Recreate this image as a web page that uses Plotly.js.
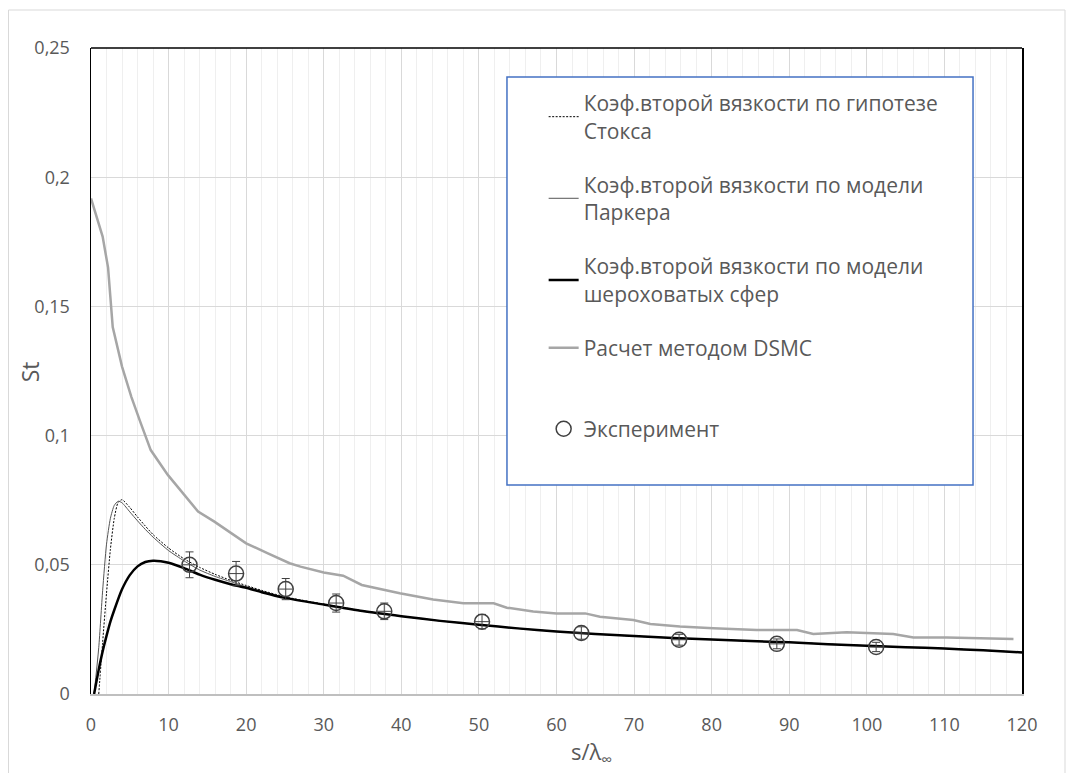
<!DOCTYPE html>
<html>
<head>
<meta charset="utf-8">
<script src="https://cdn.plot.ly/plotly-3.0.1.min.js"></script>
<style>
  html, body { margin: 0; padding: 0; background: #ffffff; }
  #chart { width: 1066px; height: 773px; }
</style>
</head>
<body>
<div id="chart"></div>
<script>
// ---- Data ----
const stokesX = [1, 1.5, 2, 2.5, 3, 3.5, 4, 5, 6, 7, 8, 10, 12, 14, 16, 18, 20, 22, 25, 30, 35, 40, 45, 50, 55, 60, 65, 70, 75, 80, 85, 90, 95, 100, 105, 110, 115, 120];
const stokesY = [0, 0.020, 0.039, 0.056, 0.068, 0.0742, 0.0752, 0.0722, 0.0685, 0.0650, 0.0617, 0.0565, 0.0523, 0.0490, 0.0463, 0.0440, 0.0420, 0.0401, 0.0376, 0.0348, 0.0322, 0.0301, 0.0283, 0.0268, 0.0254, 0.0242, 0.0232, 0.0224, 0.0217, 0.0211, 0.0205, 0.0200, 0.0193, 0.0187, 0.0181, 0.0176, 0.0169, 0.0162];

const parkerX = [0.4, 1, 1.5, 2, 2.5, 3, 3.5, 4, 5, 6, 7, 8, 10, 12, 14, 16, 18, 20, 22, 25, 30, 35, 40, 45, 50, 55, 60, 65, 70, 75, 80, 85, 90, 95, 100, 105, 110, 115, 120];
const parkerY = [0, 0.018, 0.040, 0.058, 0.068, 0.0730, 0.0746, 0.0740, 0.0705, 0.0670, 0.0637, 0.0607, 0.0555, 0.0515, 0.0480, 0.0455, 0.0435, 0.0415, 0.0398, 0.0374, 0.0347, 0.0321, 0.0301, 0.0283, 0.0268, 0.0254, 0.0242, 0.0232, 0.0224, 0.0217, 0.0211, 0.0205, 0.0200, 0.0193, 0.0187, 0.0181, 0.0176, 0.0169, 0.0161];

const roughX = [0.4, 1, 1.5, 2, 2.5, 3, 4, 5, 6, 7, 8, 9, 10, 12, 14, 16, 18, 20, 22, 25, 30, 35, 40, 45, 50, 55, 60, 65, 70, 75, 80, 85, 90, 95, 100, 105, 110, 115, 120];
const roughY = [0, 0.0095, 0.0165, 0.0225, 0.0280, 0.0325, 0.0405, 0.0460, 0.0494, 0.0511, 0.0516, 0.0514, 0.0508, 0.0487, 0.0462, 0.0442, 0.0425, 0.0411, 0.0394, 0.0372, 0.0346, 0.0321, 0.0301, 0.0283, 0.0268, 0.0254, 0.0242, 0.0232, 0.0224, 0.0217, 0.0211, 0.0205, 0.0200, 0.0193, 0.0187, 0.0181, 0.0176, 0.0169, 0.0161];

const dsmcX = [0, 1.5, 2.2, 2.8, 4, 5.2, 6.4, 7.7, 9.9, 11.8, 13.8, 15.9, 20, 22.8, 25.6, 27, 30, 32.5, 34.9, 39.8, 44.1, 48, 51.9, 53.6, 57, 60, 63.7, 65.6, 69.9, 72.1, 75.9, 80.2, 85.8, 91, 93.1, 97.4, 103.4, 106, 110.3, 118.9];
const dsmcY = [0.1918, 0.177, 0.165, 0.142, 0.1267, 0.115, 0.1049, 0.0944, 0.0848, 0.0777, 0.0706, 0.0667, 0.0583, 0.0544, 0.0506, 0.0493, 0.0470, 0.0458, 0.0422, 0.0390, 0.0366, 0.0351, 0.0351, 0.0334, 0.0319, 0.0312, 0.0312, 0.0299, 0.0286, 0.0271, 0.0261, 0.0254, 0.0248, 0.0248, 0.0232, 0.0239, 0.0232, 0.0219, 0.0219, 0.0213];

const expX = [12.7, 18.7, 25.1, 31.6, 37.8, 50.4, 63.2, 75.8, 88.4, 101.2];
const expY = [0.0500, 0.0466, 0.0406, 0.0352, 0.0320, 0.0280, 0.0236, 0.0210, 0.0194, 0.0182];
const expErr = [0.0050, 0.0047, 0.0041, 0.0035, 0.0032, 0.0028, 0.0024, 0.0021, 0.0019, 0.0018];
const expErrX = [0.9, 0.9, 0.9, 0.9, 0.9, 0.9, 0.9, 0.9, 0.9, 0.9];

const names = [
  'Коэф.второй вязкости по гипотезе<br>Стокса',
  'Коэф.второй вязкости по модели<br>Паркера',
  'Коэф.второй вязкости по модели<br>шероховатых сфер',
  'Расчет методом DSMC',
  'Эксперимент'
];
const xTitle = 's/λ<sub>∞</sub>';
const yTitle = 'St';

const FONT = '"Segoe UI", "Open Sans", "Noto Sans", sans-serif';
const TXT = '#595959';

const traces = [
  { x: stokesX, y: stokesY, name: names[0], type: 'scatter', mode: 'lines',
    line: { color: '#000000', width: 1, dash: '2px,1.5px', shape: 'spline', smoothing: 0.6 },
    legend: 'legend', legendgroup: 'g1' },
  { x: parkerX, y: parkerY, name: names[1], type: 'scatter', mode: 'lines',
    line: { color: '#555555', width: 1, shape: 'spline', smoothing: 0.6 },
    legend: 'legend', legendgroup: 'g2' },
  { x: roughX, y: roughY, name: names[2], type: 'scatter', mode: 'lines',
    line: { color: '#000000', width: 2.5, shape: 'spline', smoothing: 0.6 },
    legend: 'legend', legendgroup: 'g3' },
  { x: dsmcX, y: dsmcY, name: names[3], type: 'scatter', mode: 'lines',
    line: { color: '#A6A6A6', width: 2.5 },
    legend: 'legend', legendgroup: 'g4' },
  { x: expX, y: expY, name: names[4], type: 'scatter', mode: 'markers',
    marker: { symbol: 'circle-open', size: 15, color: '#404040', line: { width: 1.5, color: '#404040' } },
    error_y: { type: 'data', array: expErr, visible: true, color: '#404040', thickness: 1, width: 4 },
    error_x: { type: 'data', array: expErrX, visible: true, color: '#404040', thickness: 1, width: 0 },
    legend: 'legend2' }
];

const layout = {
  width: 1066, height: 773,
  paper_bgcolor: '#ffffff', plot_bgcolor: '#ffffff',
  separators: ', ',
  font: { family: FONT, color: TXT, size: 18 },
  margin: { l: 91, r: 44, t: 48, b: 79, pad: 0 },
  showlegend: true,
  xaxis: {
    range: [0, 120], dtick: 10, tick0: 0,
    showgrid: true, gridcolor: '#D9D9D9', gridwidth: 1,
    minor: { dtick: 2, showgrid: true, gridcolor: '#EFEFEF', gridwidth: 1 },
    showline: true, linecolor: '#BFBFBF', linewidth: 1.5,
    zeroline: false, ticks: '', ticklabelstandoff: 14,
    tickfont: { size: 18, color: TXT, family: FONT }
  },
  yaxis: {
    range: [0, 0.25], dtick: 0.05, tick0: 0,
    showgrid: true, gridcolor: '#D9D9D9', gridwidth: 1,
    showline: true, linecolor: '#000000', linewidth: 1.5, mirror: true,
    zeroline: false, ticks: '', ticklabelstandoff: 16,
    tickfont: { size: 18, color: TXT, family: FONT }
  },
  annotations: [
    { text: xTitle, xref: 'paper', yref: 'paper', x: 0.538, y: -0.091,
      xanchor: 'center', yanchor: 'middle', showarrow: false,
      font: { size: 22, color: TXT, family: FONT } },
    { text: yTitle, xref: 'paper', yref: 'paper', x: -0.0655, y: 0.498, textangle: -90,
      xanchor: 'center', yanchor: 'middle', showarrow: false,
      font: { size: 23, color: TXT, family: FONT } }
  ],
  legend: {
    x: 0.4862, xanchor: 'left', y: 0.946, yanchor: 'top',
    bgcolor: 'rgba(0,0,0,0)', borderwidth: 0,
    font: { size: 21, color: TXT, family: FONT },
    tracegroupgap: 24, itemwidth: 30, traceorder: 'grouped'
  },
  legend2: {
    x: 0.4862, xanchor: 'left', y: 0.410, yanchor: 'middle',
    bgcolor: 'rgba(0,0,0,0)', borderwidth: 0,
    font: { size: 21, color: TXT, family: FONT }
  },
  shapes: [
    // outer chart border
    { type: 'rect', xref: 'paper', yref: 'paper', x0: -0.0886, x1: 1.0462, y0: -0.14, y1: 1.0588,
      line: { color: '#D9D9D9', width: 1 }, fillcolor: 'rgba(0,0,0,0)', layer: 'below' },
    // top border of plot area
    { type: 'line', xref: 'paper', yref: 'paper', x0: 0, x1: 1, y0: 1, y1: 1,
      line: { color: '#000000', width: 1.5 } },
    // legend box
    { type: 'rect', xref: 'paper', yref: 'paper', x0: 0.4468, x1: 0.9474, y0: 0.3235, y1: 0.9551,
      line: { color: '#4472C4', width: 1.5 }, fillcolor: '#ffffff', layer: 'above' }
  ]
};

Plotly.newPlot('chart', traces, layout, { displayModeBar: false, staticPlot: true });
</script>
</body>
</html>
